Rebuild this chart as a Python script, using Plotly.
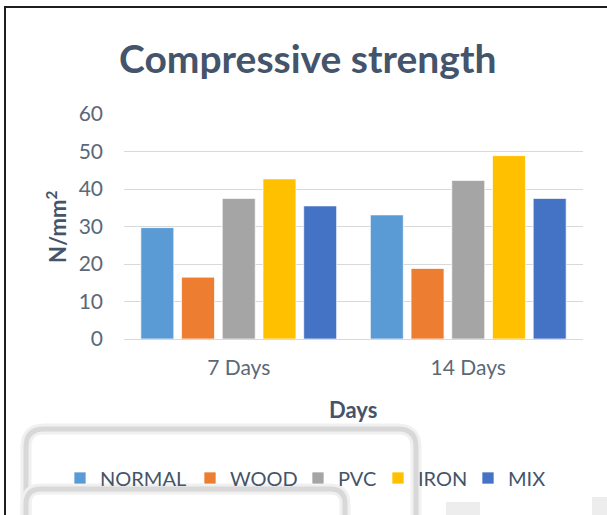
import plotly.graph_objects as go

categories = ["7 Days", "14 Days"]
series_names = ["NORMAL", "WOOD", "PVC", "IRON", "MIX"]
normal = [29.7, 33.1]
wood = [16.5, 18.8]
pvc = [37.5, 42.3]
iron = [42.7, 48.9]
mix = [35.5, 37.5]
y_ticks = [0, 10, 20, 30, 40, 50, 60]

values = [normal, wood, pvc, iron, mix]
colors = ["#5B9BD5", "#ED7D31", "#A5A5A5", "#FFC000", "#4472C4"]

W, H = 607, 515
L, R, T, B = 124, 583, 114, 339  # plot area in pixels


def px(x):
    return (x - L) / (R - L)


def py(y):
    return (B - y) / (B - T)


fig = go.Figure()
legend_names = ["legend", "legend2", "legend3", "legend4", "legend5"]
for name, vals, col, lg in zip(series_names, values, colors, legend_names):
    fig.add_trace(go.Bar(
        x=categories, y=vals, name=name,
        marker=dict(color=col, line=dict(color="rgba(255,255,255,0.7)", width=1)),
        legend=lg,
    ))

text_lefts = [100, 230, 338, 418, 508]
leg_font = dict(family="Lato, sans-serif", size=20, color="#44546A")
legend_layout = {}
for lg, tl in zip(legend_names, text_lefts):
    legend_layout[lg] = dict(
        x=px(tl - 40), xanchor="left", xref="paper",
        y=py(478), yanchor="middle", yref="paper",
        orientation="h", font=leg_font, bgcolor="rgba(0,0,0,0)",
        borderwidth=0, itemclick=False,
    )


def rrect(x0, y0, x1, y1, r):
    # open-bottom rounded rectangle path in paper coords
    return (f"M {px(x0)},{py(y1)} L {px(x0)},{py(y0 + r)} "
            f"Q {px(x0)},{py(y0)} {px(x0 + r)},{py(y0)} "
            f"L {px(x1 - r)},{py(y0)} "
            f"Q {px(x1)},{py(y0)} {px(x1)},{py(y0 + r)} "
            f"L {px(x1)},{py(y1)}")


shapes = []
for (x0, y0, x1, y1, r) in [(26, 429, 416, 530, 18), (26, 489, 345, 530, 15)]:
    p = rrect(x0, y0, x1, y1, r)
    shapes.append(dict(type="path", path=p, xref="paper", yref="paper",
                       line=dict(color="#F0F0F0", width=11), layer="below"))
    shapes.append(dict(type="path", path=p, xref="paper", yref="paper",
                       line=dict(color="#D8D8D8", width=5), layer="below"))
# faint blobs at bottom right
shapes.append(dict(type="rect", xref="paper", yref="paper",
                   x0=px(446), x1=px(480), y0=py(520), y1=py(502),
                   fillcolor="#EDEDED", line=dict(width=0), layer="below"))
shapes.append(dict(type="rect", xref="paper", yref="paper",
                   x0=px(592), x1=px(610), y0=py(520), y1=py(497),
                   fillcolor="#EDEDED", line=dict(width=0), layer="below"))
# outer black frame (left and top edges)
shapes.append(dict(type="path", xref="paper", yref="paper",
                   path=f"M {px(5)},{py(520)} L {px(5)},{py(7)} L {px(612)},{py(7)}",
                   line=dict(color="#1E1E1E", width=2)))

annotations = [
    dict(text="<b>Compressive strength</b>", x=px(307), y=py(58), xref="paper", yref="paper",
         showarrow=False, xanchor="center", yanchor="middle",
         font=dict(family="Lato, sans-serif", size=39, color="#44546A")),
    dict(text="<b>N/mm<sup>2</sup></b>", x=px(56), y=py(227), xref="paper", yref="paper",
         showarrow=False, textangle=-90, xanchor="center", yanchor="middle",
         font=dict(family="Lato, sans-serif", size=22, color="#44546A")),
    dict(text="<b>Days</b>", x=px(353), y=py(409), xref="paper", yref="paper",
         showarrow=False, xanchor="center", yanchor="middle",
         font=dict(family="Lato, sans-serif", size=22, color="#44546A")),
]

fig.update_layout(
    width=W, height=H,
    margin=dict(l=L, r=W - R, t=T, b=H - B, pad=0),
    paper_bgcolor="white", plot_bgcolor="white",
    barmode="group", bargap=0.113, bargroupgap=0.19,
    showlegend=True,
    shapes=shapes, annotations=annotations,
    **legend_layout,
)
fig.update_yaxes(range=[0, 60], tickvals=y_ticks, showgrid=True, gridcolor="#D9D9D9",
                 gridwidth=1, zeroline=True, zerolinecolor="#D9D9D9", zerolinewidth=1,
                 showline=False, ticks="", ticklabelstandoff=20,
                 tickfont=dict(family="Lato, sans-serif", size=21, color="#5A6878"))
fig.update_xaxes(showgrid=False, showline=False, ticks="", ticklabelstandoff=14,
                 tickfont=dict(family="Lato, sans-serif", size=21, color="#5A6878"))

fig.write_html("out.html")
